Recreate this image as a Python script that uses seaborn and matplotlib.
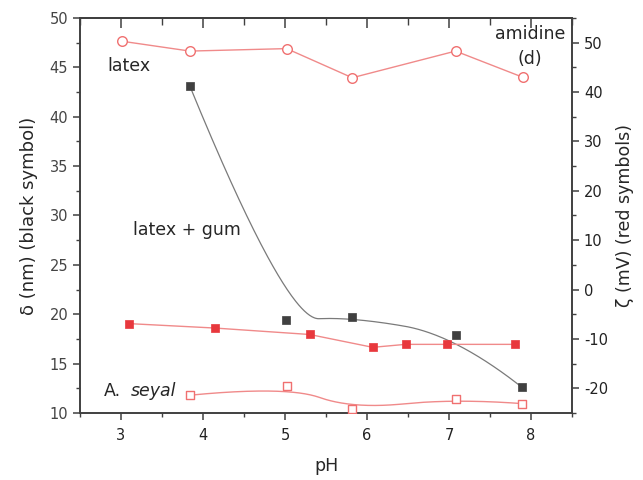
import numpy as np
import pandas as pd
import matplotlib
matplotlib.use("Agg")
import matplotlib.pyplot as plt
import seaborn as sns
from matplotlib.ticker import MultipleLocator

# ---- data ----
ph_black = [3.84, 5.01, 5.82, 7.08, 7.89]
delta_black = [43.1, 19.4, 19.7, 17.9, 12.6]

ph_latex = [3.01, 3.84, 5.02, 5.82, 7.08, 7.90]
zeta_latex = [50.3, 48.3, 48.8, 42.9, 48.3, 43.0]

ph_gum = [3.10, 4.15, 5.30, 6.07, 6.47, 6.97, 7.80]
zeta_gum = [-6.9, -7.8, -9.1, -11.7, -11.1, -11.1, -11.1]

ph_seyal = [3.84, 5.02, 5.82, 7.08, 7.89]
zeta_seyal = [-21.4, -19.5, -24.2, -22.1, -23.1]

x_ticks = [3, 4, 5, 6, 7, 8]
left_ticks = [10, 15, 20, 25, 30, 35, 40, 45, 50]
right_ticks = [-20, -10, 0, 10, 20, 30, 40, 50]


def bspline(xs, ys, k=2, n=300):
    """Clamped uniform B-spline using the data points as control points."""
    P = np.column_stack([xs, ys]).astype(float)
    m = len(P)
    k = min(k, m - 1)
    knots = np.concatenate([np.zeros(k), np.linspace(0, 1, m - k + 1), np.ones(k)])
    t = np.linspace(0, 1, n)
    t[-1] -= 1e-9
    N = np.zeros((len(knots) - 1, n))
    for i in range(len(knots) - 1):
        N[i] = ((t >= knots[i]) & (t < knots[i + 1])).astype(float)
    for dd in range(1, k + 1):
        Nn = np.zeros((len(knots) - 1 - dd, n))
        for i in range(len(knots) - 1 - dd):
            a = knots[i + dd] - knots[i]
            b = knots[i + dd + 1] - knots[i + 1]
            term = np.zeros(n)
            if a > 0:
                term = term + (t - knots[i]) / a * N[i]
            if b > 0:
                term = term + (knots[i + dd + 1] - t) / b * N[i + 1]
            Nn[i] = term
        N = Nn
    C = N.T @ P
    return C[:, 0], C[:, 1]


sns.set_style("ticks")
plt.rcParams['font.family'] = ['DejaVu Sans']
plt.rcParams['axes.unicode_minus'] = False

fig = plt.figure(figsize=(6.43, 4.80), dpi=100)
ax = fig.add_axes([0.1244, 0.1396, 0.7652, 0.8229])
ax2 = ax.twinx()

red = "#e8383d"
red_line = "#f08a8a"
red_edge = "#f07070"
dark = "#404040"

# black series (left axis)
bx, by = bspline(ph_black, delta_black)
ax.plot(bx, by, color="#7a7a7a", lw=0.9, zorder=2)
sns.scatterplot(x=ph_black, y=delta_black, ax=ax, marker="s", s=38,
                color=dark, edgecolor=dark, linewidth=0.5, zorder=3)

# red series (right axis)
ax2.plot(ph_latex, zeta_latex, color=red_line, lw=1.0, zorder=2)
sns.scatterplot(x=ph_latex, y=zeta_latex, ax=ax2, marker="o", s=48,
                facecolor="white", edgecolor=red_edge, linewidth=1.0, zorder=3)

ax2.plot(ph_gum, zeta_gum, color=red_line, lw=1.0, zorder=2)
sns.scatterplot(x=ph_gum, y=zeta_gum, ax=ax2, marker="s", s=40,
                color=red, edgecolor=red, linewidth=0.5, zorder=3)

sx, sy = bspline(ph_seyal, zeta_seyal)
ax2.plot(sx, sy, color=red_line, lw=1.0, zorder=2)
sns.scatterplot(x=ph_seyal, y=zeta_seyal, ax=ax2, marker="s", s=30,
                facecolor="white", edgecolor=red_edge, linewidth=1.0, zorder=3)

# axes limits/ticks
ax.set_xlim(2.5, 8.5)
ax.set_ylim(10, 50)
ax2.set_ylim(-25, 55)
ax.set_xticks(x_ticks)
ax.set_yticks(left_ticks)
ax2.set_yticks(right_ticks)
ax.xaxis.set_minor_locator(MultipleLocator(0.5))
ax.yaxis.set_minor_locator(MultipleLocator(2.5))
ax2.yaxis.set_minor_locator(MultipleLocator(5))

for a in (ax, ax2):
    for sp in a.spines.values():
        sp.set_visible(True)
        sp.set_color(dark)
        sp.set_linewidth(1.2)

ax.tick_params(axis='x', which='both', direction='out', colors=dark,
               labelsize=10.5, labelcolor="#222222", pad=6)
ax.tick_params(axis='x', which='major', length=5, width=1.1)
ax.tick_params(axis='x', which='minor', length=3, width=1.0)
ax.tick_params(axis='y', which='major', length=5, width=1.1, direction='out',
               colors=dark, labelsize=10.5, labelcolor="#444444")
ax.tick_params(axis='y', which='minor', length=3, width=1.0, direction='out', colors=dark)
ax2.tick_params(axis='y', which='major', length=5, width=1.1, direction='out',
                colors=dark, labelsize=10.5, labelcolor="#222222")
ax2.tick_params(axis='y', which='minor', length=3, width=1.0, direction='out', colors=dark)

# top ticks inward
secx = ax.secondary_xaxis('top')
secx.set_xticks(x_ticks)
secx.xaxis.set_minor_locator(MultipleLocator(0.5))
secx.tick_params(which='major', direction='in', length=7, width=1.1, colors=dark,
                 labeltop=False)
secx.tick_params(which='minor', direction='in', length=5, width=1.0, colors=dark)
secx.spines['top'].set_color(dark)
secx.spines['top'].set_linewidth(1.2)
ax.tick_params(axis='x', which='both', top=False)

ax.set_xlabel("pH", fontsize=12.5, labelpad=10)
ax.set_ylabel("δ (nm) (black symbol)", fontsize=13, labelpad=8)
ax2.set_ylabel("ζ (mV) (red symbols)", fontsize=12.5, labelpad=6)

ax.text(2.83, 45.1, "latex", fontsize=12.5, va="center", ha="left")
ax.text(3.15, 28.5, "latex + gum", fontsize=12.5, va="center", ha="left")
ax.text(7.99, 48.4, "amidine", fontsize=12.5, va="center", ha="center")
ax.text(7.99, 45.8, "(d)", fontsize=12.5, va="center", ha="center")
ax.text(2.79, 12.26, "A.", fontsize=12.5, va="center", ha="left")
ax.text(3.12, 12.26, "seyal", fontsize=12.5, va="center", ha="left", style="italic")

fig.savefig("out.png", dpi=100)
